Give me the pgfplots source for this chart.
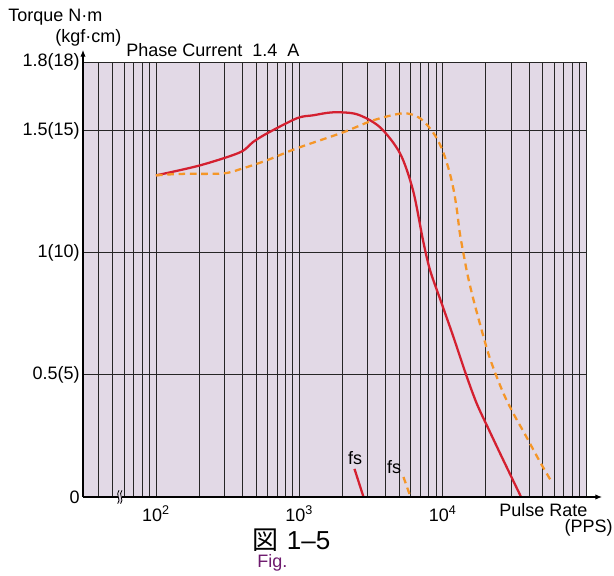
\documentclass[border=0pt]{standalone}
\usepackage{fontspec}
\setmainfont{Liberation Sans}
\newfontfamily\cjk{Noto Sans CJK JP}
\usepackage{pgfplots}
\pgfplotsset{compat=1.18}
\usetikzlibrary{arrows.meta}
\definecolor{bgl}{RGB}{226,217,230}
\definecolor{cred}{RGB}{212,32,48}
\definecolor{corange}{RGB}{245,150,40}
\definecolor{figc}{RGB}{110,26,110}
\newcommand{\lbl}{\fontsize{13.5}{16}\selectfont}

\begin{document}
\begin{tikzpicture}[font=\lbl]
\useasboundingbox (-62.25pt,-58.5pt) rectangle (398.25pt,372.75pt);
\begin{axis}[
  at={(0,0)}, anchor=south west,
  scale only axis, width=377.25pt, height=326.25pt,
  xmode=log, xmin=31, xmax=100000, ymin=0, ymax=1.78,
  axis background/.style={fill=bgl},
  axis line style={draw=none},
  xtick={100,1000,10000},
  xticklabels={10\textsuperscript{2},10\textsuperscript{3},10\textsuperscript{4}},
  minor xtick={40,50,60,70,80,90,200,300,400,500,600,700,800,900,2000,3000,4000,5000,6000,7000,8000,9000,20000,30000,40000,50000,60000,70000,80000,90000,100000},
  ytick={0,0.5,1,1.5,1.78},
  yticklabels={0,0.5(5),1(10),1.5(15),1.8(18)},
  major tick length=0pt, minor tick length=0pt,
  grid=both,
  major grid style={black!85, line width=0.6pt},
  minor grid style={black!85, line width=0.6pt},
  ticklabel style={font=\lbl},
  xticklabel style={yshift=-3pt},
  yticklabel style={xshift=1pt},
]
\addplot[cred, line width=1.7pt, smooth, tension=0.5] coordinates {
 (100,1.316) (203,1.357) (385,1.410) (477,1.453) (596,1.488) (964,1.550)
 (1253,1.562) (1718,1.574) (2528,1.566) (3657,1.513) (5045,1.406) (6220,1.254)
 (7300,1.050) (8170,0.928) (9860,0.791) (11890,0.655) (14560,0.501)
 (17300,0.382) (20840,0.280) (25850,0.164) (35240,0.0)
};
\addplot[corange, line width=1.7pt, dash pattern=on 5pt off 3.5pt, smooth, tension=0.5] coordinates {
 (100,1.316) (147,1.322) (293.6,1.324) (404.7,1.345) (596,1.378) (964,1.427)
 (2018,1.492) (3267,1.541) (5295,1.570) (6955,1.550) (8570,1.492) (9860,1.426)
 (11030,1.341) (11955,1.254) (12605,1.170) (13162,1.082) (13973,0.996)
 (14900,0.911) (16120,0.825) (17580,0.741) (19230,0.658) (21180,0.574)
 (23850,0.491) (27130,0.412) (31650,0.334) (37420,0.258) (47830,0.143)
 (57710,0.061)
};
\addplot[cred, line width=1.7pt] coordinates {(2427,0.115) (2806,0)};
\addplot[corange, line width=1.7pt, dash pattern=on 5pt off 3.5pt] coordinates {(5330,0.082) (5970,0)};
\end{axis}
% axis lines with arrows
\draw[line width=0.8pt, -{Latex[length=5pt,width=4pt]}] (0,0) -- (389.25pt,0);
\draw[line width=0.8pt, -{Latex[length=5pt,width=4pt]}] (0,0) -- (0,335.25pt);
% axis break mark
\fill[bgl] (26pt,-4.5pt) rectangle (29.5pt,4.5pt);
\draw[line width=0.6pt] (26pt,-5pt) .. controls (29pt,-2pt) and (24pt,2pt) .. (27pt,5pt);
\draw[line width=0.6pt] (28.2pt,-5pt) .. controls (31.2pt,-2pt) and (26.2pt,2pt) .. (29.2pt,5pt);
% texts
\node[anchor=west, inner sep=0pt] at (-56.25pt,360pt) {Torque N·m};
\node[anchor=west, inner sep=0pt] at (-21pt,344.25pt) {(kgf·cm)};
\node[anchor=west, inner sep=0pt] at (32.25pt,335.25pt) {Phase Current\ \ 1.4\ \ A};
\node[inner sep=0pt] at (204pt,29.25pt) {fs};
\node[inner sep=0pt] at (233.25pt,22.5pt) {fs};
\node[anchor=west, inner sep=0pt] at (312pt,-9.75pt) {Pulse Rate};
\node[anchor=east, inner sep=0pt] at (397.5pt,-23.25pt) {(PPS)};
\node[anchor=base, inner sep=0pt] at (156.4pt,-39pt) {\fontsize{19.5}{22}\selectfont{\cjk 図}\hspace{6pt}1–5};
\node[anchor=base, inner sep=0pt, text=figc] at (142.1pt,-52.5pt) {Fig.};
\end{tikzpicture}
\end{document}
